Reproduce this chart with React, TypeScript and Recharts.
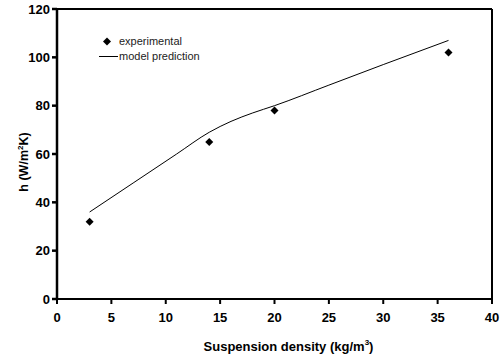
import React from "react";
import {
  ComposedChart,
  Line,
  Scatter,
  XAxis,
  YAxis,
  ReferenceLine,
  Label,
} from "recharts";

// experimental points
const expDensity = [3, 14, 20, 36];
const expH = [32, 65, 78, 102];

// model prediction curve (read at several densities)
const modelDensity = [3, 7, 11, 14, 16, 18, 20, 25, 30, 36];
const modelH = [36, 48, 60, 69, 73.5, 77, 80, 88.5, 97, 107];

const xTicks = [0, 5, 10, 15, 20, 25, 30, 35, 40];
const yTicks = [0, 20, 40, 60, 80, 100, 120];

const expData = expDensity.map((x, i) => ({ x, y: expH[i] }));
const modelData = modelDensity.map((x, i) => ({ x, y: modelH[i] }));

const FONT = "'Liberation Sans', Arial, sans-serif";

const Diamond = (props: any) => {
  const { cx, cy } = props;
  if (cx == null || cy == null) return null;
  const r = 4;
  return (
    <polygon
      points={`${cx},${cy - r} ${cx + r},${cy} ${cx},${cy + r} ${cx - r},${cy}`}
      fill="#000"
    />
  );
};

// legend sits inside the plot, top-left
const LegendBox = () => (
  <div
    style={{
      position: "absolute",
      left: 97,
      top: 34,
      fontFamily: FONT,
      fontSize: 11,
      color: "#222",
      lineHeight: "15px",
    }}
  >
    <div style={{ display: "flex", alignItems: "center" }}>
      <svg width={22} height={15}>
        <polygon points="10,3.5 14,7.5 10,11.5 6,7.5" fill="#000" />
      </svg>
      <span>experimental</span>
    </div>
    <div style={{ display: "flex", alignItems: "center" }}>
      <svg width={22} height={15}>
        <line x1={2} y1={7.5} x2={21} y2={7.5} stroke="#000" strokeWidth={1} />
      </svg>
      <span>model prediction</span>
    </div>
  </div>
);

export default function App() {
  return (
    <div style={{ position: "absolute", left: 0, top: 0, width: 502, height: 358, background: "#fff" }}>
      <ComposedChart
        width={502}
        height={358}
        margin={{ top: 9, right: 10, bottom: 0, left: 0 }}
      >
        <XAxis
          type="number"
          dataKey="x"
          domain={[0, 40]}
          ticks={xTicks}
          interval={0}
          allowDataOverflow
          height={59}
          stroke="#000"
          strokeWidth={2}
          tickSize={5}
          tickMargin={9}
          tick={{ fill: "#000", fontSize: 13, fontWeight: 700, fontFamily: FONT }}
        >
          <Label
            content={(p: any) => {
              const vb = p.viewBox;
              return (
                <text
                  x={vb.x + vb.width / 2 + 14}
                  y={vb.y + 52}
                  textAnchor="middle"
                  fontFamily={FONT}
                  fontSize={13}
                  fontWeight={700}
                  fill="#000"
                >
                  Suspension density (kg/m
                  <tspan dy={-6} fontSize={8}>3</tspan>
                  <tspan dy={6}>)</tspan>
                </text>
              );
            }}
          />
        </XAxis>
        <YAxis
          type="number"
          dataKey="y"
          domain={[0, 120]}
          ticks={yTicks}
          interval={0}
          width={57}
          stroke="#000"
          strokeWidth={2.5}
          tickSize={5}
          tickMargin={2}
          tick={{ fill: "#000", fontSize: 13, fontWeight: 700, fontFamily: FONT }}
        >
          <Label
            content={(p: any) => {
              const vb = p.viewBox;
              const cx = 28;
              const cy = vb.y + vb.height / 2 + 8;
              return (
                <text
                  x={cx}
                  y={cy}
                  transform={`rotate(-90 ${cx} ${cy})`}
                  textAnchor="middle"
                  fontFamily={FONT}
                  fontSize={12.5}
                  fontWeight={700}
                  fill="#000"
                >
                  h (W/m
                  <tspan dy={-5} fontSize={8}>2</tspan>
                  <tspan dy={5}>K)</tspan>
                </text>
              );
            }}
          />
        </YAxis>
        <ReferenceLine y={120} stroke="#000" strokeWidth={2} ifOverflow="extendDomain" />
        <ReferenceLine x={40} stroke="#000" strokeWidth={2} ifOverflow="extendDomain" />
        <Line
          data={modelData}
          dataKey="y"
          type="monotone"
          stroke="#000"
          strokeWidth={1}
          dot={false}
          isAnimationActive={false}
        />
        <Scatter
          data={expData}
          dataKey="y"
          fill="#000"
          shape={<Diamond />}
          isAnimationActive={false}
        />
      </ComposedChart>
      <LegendBox />
    </div>
  );
}
